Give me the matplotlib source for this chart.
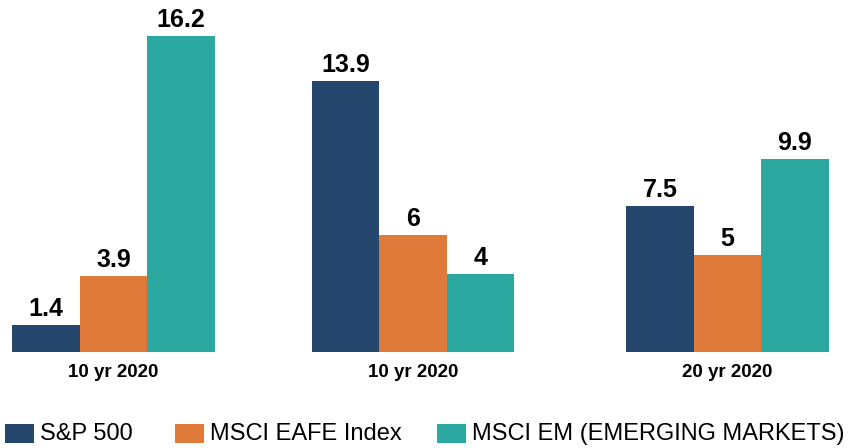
import matplotlib
matplotlib.use("Agg")
import matplotlib.pyplot as plt
from matplotlib.patches import Rectangle

plt.rcParams['font.family'] = ['Liberation Sans', 'DejaVu Sans']

categories = ['10 yr 2020', '10 yr 2020', '20 yr 2020']
series = ['S&P 500', 'MSCI EAFE Index', 'MSCI EM (EMERGING MARKETS)']
sp500 = [1.4, 13.9, 7.5]
eafe = [3.9, 6, 5]
em = [16.2, 4, 9.9]
colors = ['#26476D', '#E07A3A', '#2BA8A0']

# group centres in pixel-ish units (groups are not evenly spaced)
centers = [113.5, 413, 727.5]
width = 67.5
W, H = 857, 448

fig = plt.figure(figsize=(8.57, 4.48), dpi=100)
ax = fig.add_axes([0, 96 / H, 1, 352 / H])
ax.set_xlim(0, W)
ax.set_ylim(0, 352 / 19.5)
ax.axis('off')

for k, vals in enumerate([sp500, eafe, em]):
    xs = [c + (k - 1) * width for c in centers]
    ax.bar(xs, vals, width, color=colors[k], linewidth=0)
    for x, v in zip(xs, vals):
        ax.annotate('%g' % v, (x, v), xytext=(0, 11.5), textcoords='offset points',
                    ha='center', va='center', fontsize=18, fontweight='bold')

for c, lab in zip(centers, categories):
    fig.text(c / W, 1 - 372 / H, lab, ha='center', va='center',
             fontsize=13.5, fontweight='bold')

# legend drawn by hand to match spacing
leg_x = [5, 175, 437]
for x0, name, col in zip(leg_x, series, colors):
    fig.add_artist(Rectangle((x0 / W, 1 - 443 / H), 29 / W, 19 / H,
                             transform=fig.transFigure, color=col, lw=0))
    fig.text((x0 + 35) / W, 1 - 434 / H, name, ha='left', va='center', fontsize=17)

fig.savefig('out.png', dpi=100)
